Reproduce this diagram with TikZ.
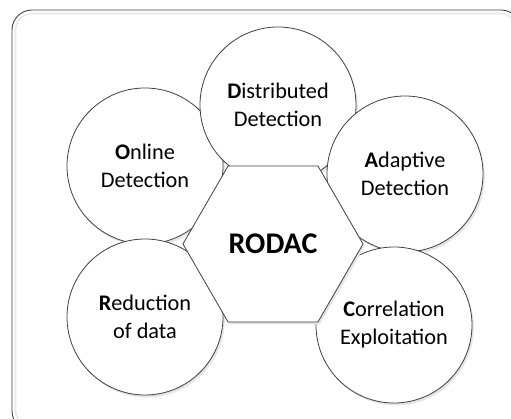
\documentclass[tikz,border=0pt]{standalone}
\usepackage{fontspec}
\setmainfont{Carlito}
\usetikzlibrary{shapes.geometric}
\definecolor{edge}{HTML}{404040}
\tikzset{
  softshadow/.style={preaction={fill=gray!20, draw=none, transform canvas={shift={(1.8pt,-2.4pt)}}}},
  bubble/.style={circle, draw=edge, line width=0.8pt, minimum size=156pt, inner sep=0pt,
    fill=white, align=center, softshadow,
    font=\fontsize{22.3}{28}\selectfont},
  hexa/.style={regular polygon, regular polygon sides=6, minimum size=180pt, inner sep=0pt,
    draw=edge, line width=0.8pt, fill=white, softshadow,
    font=\fontsize{30}{32}\selectfont\bfseries},
}
\begin{document}
\begin{tikzpicture}[x=1pt,y=1pt]
\useasboundingbox (0,0) rectangle (511,-419);
\begin{scope}
\clip (0,0) rectangle (511,-419);
\draw[gray!18, line width=1.6pt, rounded corners=17pt] (15.5,-13.5) rectangle (517,-427);
\draw[edge, line width=0.9pt, rounded corners=20pt] (12,-10) rectangle (521,-431);
\end{scope}
\node[bubble] (o) at (145,-166) {\textbf{O}nline\\Detection};
\node[bubble] (r) at (145,-317) {\textbf{R}eduction\\of data};
\node[bubble] (d) at (278,-105) {\textbf{D}istributed\\Detection};
\node[bubble] (a) at (405,-174) {\textbf{A}daptive\\Detection};
\node[bubble] (c) at (394,-325) {\textbf{C}orrelation\\Exploitation};
\node[hexa] (h) at (273,-244) {RODAC};
\end{tikzpicture}
\end{document}
